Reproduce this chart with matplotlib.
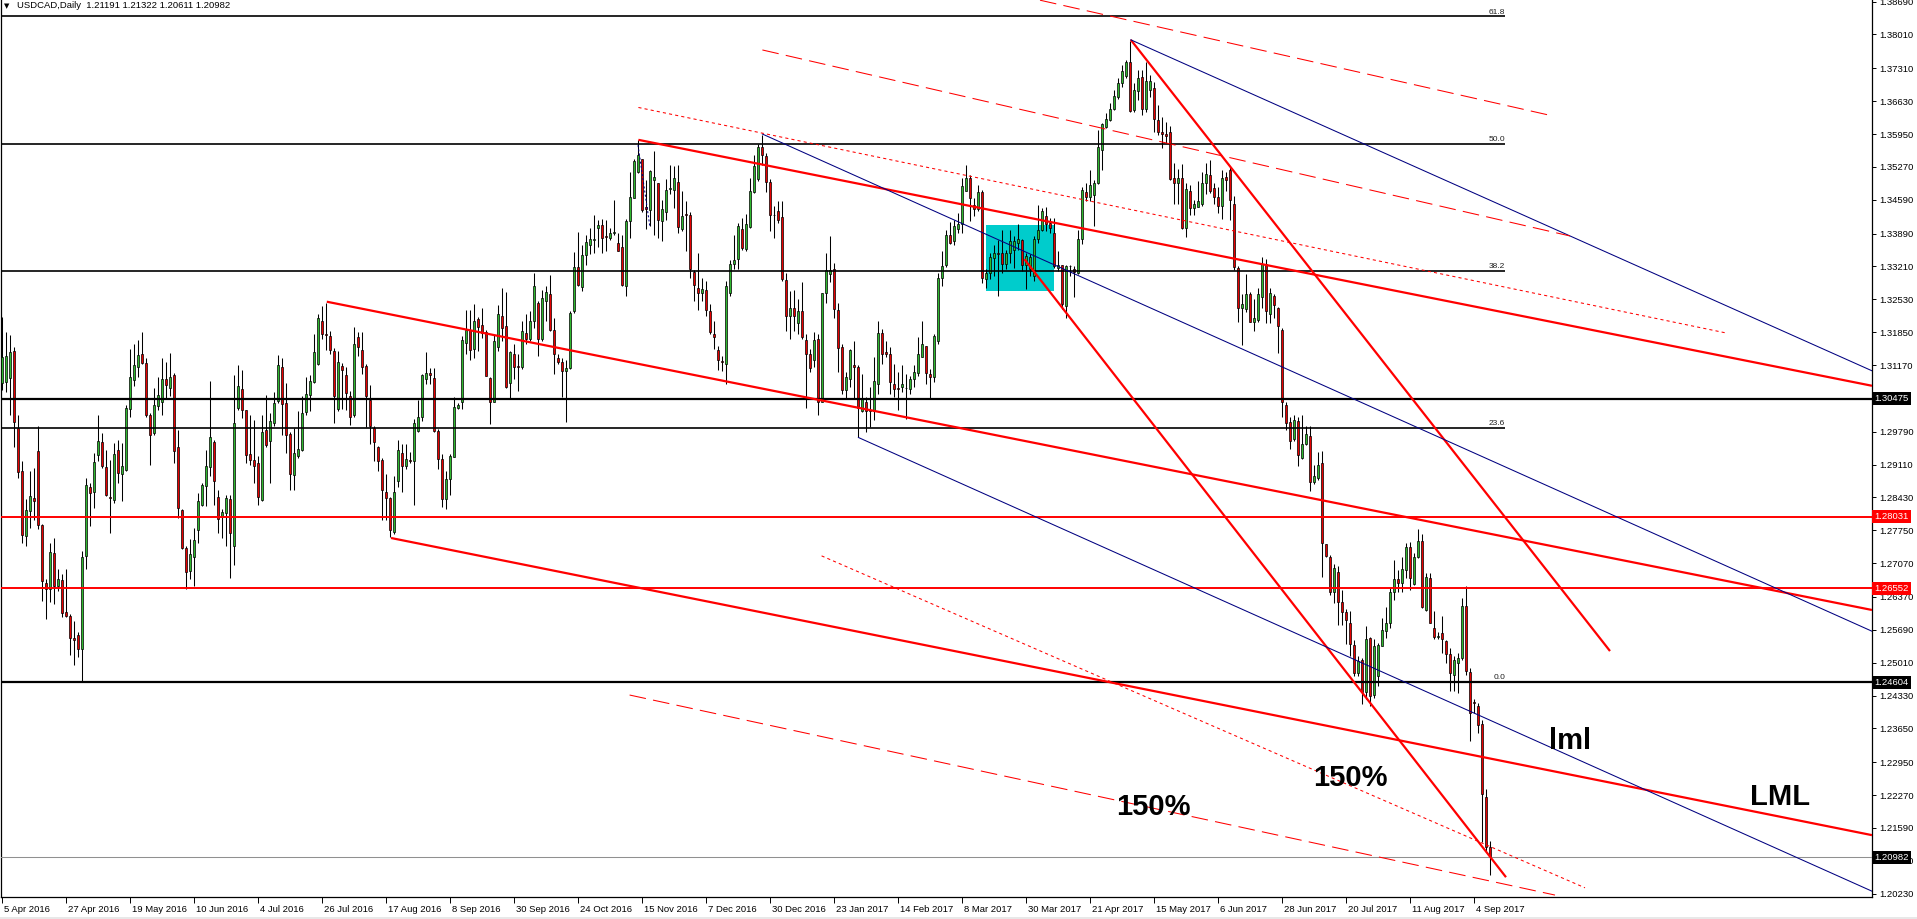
import matplotlib
matplotlib.use("Agg")
from matplotlib import pyplot as plt
from matplotlib.patches import Rectangle
import matplotlib.transforms as mtransforms
import numpy as np

plt.rcParams['font.family'] = ['Liberation Sans', 'DejaVu Sans']

# USDCAD daily, one entry per bar
opens = [
    1.3079, 1.3082, 1.3091, 1.3146, 1.2986, 1.2898, 1.2764, 1.2815, 1.2842, 1.2939,
    1.2786, 1.2665, 1.2654, 1.2727, 1.2659, 1.2673, 1.2606, 1.2597, 1.2552, 1.2558,
    1.2529, 1.2722, 1.2865, 1.2854, 1.2930, 1.2957, 1.2906, 1.2844, 1.2837, 1.2941,
    1.2891, 1.2899, 1.3025, 1.3087, 1.3113, 1.3139, 1.3122, 1.3014, 1.2976, 1.3032,
    1.3040, 1.3089, 1.3070, 1.3096, 1.2948, 1.2816, 1.2739, 1.2691, 1.2720, 1.2775,
    1.2827, 1.2866, 1.2906, 1.2957, 1.2844, 1.2804, 1.2811, 1.2839, 1.2742, 1.3029,
    1.3068, 1.3023, 1.2933, 1.2921, 1.2915, 1.2837, 1.2983, 1.2959, 1.2997, 1.3042,
    1.3112, 1.3038, 1.2975, 1.2890, 1.2928, 1.2942, 1.3019, 1.3054, 1.3081, 1.3120,
    1.3209, 1.3182, 1.3178, 1.3146, 1.3025, 1.3114, 1.3097, 1.3053, 1.3013, 1.3174,
    1.3149, 1.3115, 1.3044, 1.2987, 1.2948, 1.2921, 1.2855, 1.2842, 1.2771, 1.2877,
    1.2934, 1.2909, 1.2921, 1.2919, 1.2981, 1.3010, 1.3089, 1.3101, 1.3091, 1.2981,
    1.2923, 1.2840, 1.2881, 1.2926, 1.3027, 1.3041, 1.3163, 1.3190, 1.3151, 1.3213,
    1.3199, 1.3186, 1.3091, 1.3040, 1.3154, 1.3218, 1.3197, 1.3079, 1.3140, 1.3115,
    1.3112, 1.3183, 1.3170, 1.3208, 1.3245, 1.3170, 1.3249, 1.3263, 1.3189, 1.3131,
    1.3123, 1.3105, 1.3110, 1.3228, 1.3320, 1.3278, 1.3345, 1.3366, 1.3376, 1.3400,
    1.3407, 1.3383, 1.3379, 1.3390, 1.3369, 1.3362, 1.3280, 1.3414, 1.3463, 1.3516,
    1.3543, 1.3443, 1.3437, 1.3500, 1.3494, 1.3416, 1.3434, 1.3482, 1.3480, 1.3495,
    1.3399, 1.3430, 1.3428, 1.3310, 1.3277, 1.3265, 1.3272, 1.3228, 1.3181, 1.3148,
    1.3126, 1.3119, 1.3267, 1.3327, 1.3336, 1.3399, 1.3358, 1.3403, 1.3475, 1.3501,
    1.3569, 1.3549, 1.3496, 1.3428, 1.3435, 1.3423, 1.3292, 1.3219, 1.3236, 1.3203,
    1.3228, 1.3169, 1.3140, 1.3128, 1.3171, 1.3040, 1.3265, 1.3306, 1.3315, 1.3231,
    1.3154, 1.3066, 1.3088, 1.3117, 1.3112, 1.3021, 1.3040, 1.3021, 1.3022, 1.3078,
    1.3183, 1.3143, 1.3140, 1.3078, 1.3069, 1.3071, 1.3070, 1.3068, 1.3088, 1.3100,
    1.3134, 1.3157, 1.3099, 1.3093, 1.3167, 1.3298, 1.3324, 1.3386, 1.3373, 1.3399,
    1.3408, 1.3478, 1.3503, 1.3449, 1.3440, 1.3476, 1.3296, 1.3307, 1.3339, 1.3348,
    1.3348, 1.3327, 1.3348, 1.3356, 1.3370, 1.3375, 1.3323, 1.3315, 1.3301, 1.3377,
    1.3397, 1.3426, 1.3410, 1.3391, 1.3318, 1.3323, 1.3239, 1.3322, 1.3316, 1.3308,
    1.3377, 1.3476, 1.3465, 1.3469, 1.3494, 1.3562, 1.3610, 1.3624, 1.3646, 1.3672,
    1.3700, 1.3715, 1.3744, 1.3645, 1.3684, 1.3713, 1.3646, 1.3686, 1.3691, 1.3624,
    1.3600, 1.3596, 1.3600, 1.3504, 1.3493, 1.3504, 1.3401, 1.3477, 1.3441, 1.3445,
    1.3451, 1.3493, 1.3510, 1.3484, 1.3464, 1.3447, 1.3506, 1.3520, 1.3451, 1.3318,
    1.3235, 1.3233, 1.3264, 1.3207, 1.3211, 1.3257, 1.3327, 1.3222, 1.3259, 1.3234,
    1.3190, 1.3034, 1.3000, 1.2964, 1.3002, 1.2924, 1.2953, 1.2971, 1.2874, 1.2883,
    1.2914, 1.2746, 1.2719, 1.2647, 1.2689, 1.2626, 1.2605, 1.2583, 1.2538, 1.2480,
    1.2506, 1.2440, 1.2552, 1.2435, 1.2473, 1.2536, 1.2566, 1.2583, 1.2648, 1.2674,
    1.2665, 1.2693, 1.2741, 1.2664, 1.2719, 1.2753, 1.2610, 1.2676, 1.2573, 1.2555,
    1.2562, 1.2545, 1.2519, 1.2476, 1.2501, 1.2511, 1.2619, 1.2481, 1.2419, 1.2412,
    1.2375, 1.2222, 1.21191]

highs = [
    1.3216, 1.3186, 1.3179, 1.3155, 1.3014, 1.2919, 1.2839, 1.2897, 1.2904, 1.2990,
    1.2787, 1.2674, 1.2749, 1.2760, 1.2694, 1.2684, 1.2694, 1.2602, 1.2588, 1.2564,
    1.2732, 1.2883, 1.2873, 1.2935, 1.3014, 1.2976, 1.2942, 1.2921, 1.2955, 1.2962,
    1.2955, 1.3034, 1.3151, 1.3161, 1.3168, 1.3186, 1.3131, 1.3017, 1.3069, 1.3093,
    1.3131, 1.3124, 1.3141, 1.3100, 1.2983, 1.2818, 1.2742, 1.2756, 1.2780, 1.2852,
    1.2873, 1.2942, 1.3084, 1.2962, 1.2859, 1.2818, 1.2849, 1.2849, 1.3096, 1.3118,
    1.3107, 1.3024, 1.3014, 1.3003, 1.2928, 1.3014, 1.3055, 1.3017, 1.3062, 1.3137,
    1.3131, 1.3079, 1.2979, 1.2986, 1.3021, 1.3052, 1.3093, 1.3096, 1.3182, 1.3223,
    1.3239, 1.3246, 1.3187, 1.3153, 1.3146, 1.3122, 1.3112, 1.3064, 1.3195, 1.3185,
    1.3185, 1.3120, 1.3075, 1.2991, 1.2950, 1.2925, 1.2891, 1.2843, 1.2888, 1.2962,
    1.2953, 1.2953, 1.2936, 1.3005, 1.3044, 1.3098, 1.3143, 1.3111, 1.3110, 1.2984,
    1.2933, 1.2898, 1.2933, 1.3050, 1.3039, 1.3177, 1.3230, 1.3231, 1.3243, 1.3216,
    1.3235, 1.3190, 1.3092, 1.3180, 1.3242, 1.3276, 1.3269, 1.3146, 1.3161, 1.3140,
    1.3209, 1.3222, 1.3228, 1.3307, 1.3249, 1.3273, 1.3281, 1.3303, 1.3215, 1.3140,
    1.3132, 1.3127, 1.3228, 1.3351, 1.3393, 1.3366, 1.3386, 1.3400, 1.3428, 1.3418,
    1.3419, 1.3418, 1.3400, 1.3458, 1.3390, 1.3386, 1.3420, 1.3517, 1.3544, 1.3582,
    1.3544, 1.3500, 1.3521, 1.3559, 1.3494, 1.3459, 1.3501, 1.3530, 1.3528, 1.3531,
    1.3477, 1.3457, 1.3434, 1.3313, 1.3349, 1.3298, 1.3291, 1.3244, 1.3209, 1.3157,
    1.3136, 1.3291, 1.3334, 1.3387, 1.3411, 1.3422, 1.3429, 1.3504, 1.3552, 1.3575,
    1.3593, 1.3555, 1.3501, 1.3446, 1.3456, 1.3457, 1.3308, 1.3270, 1.3272, 1.3253,
    1.3288, 1.3181, 1.3150, 1.3185, 1.3181, 1.3267, 1.3349, 1.3384, 1.3329, 1.3246,
    1.3161, 1.3102, 1.3150, 1.3167, 1.3116, 1.3099, 1.3051, 1.3071, 1.3133, 1.3209,
    1.3191, 1.3167, 1.3155, 1.3119, 1.3102, 1.3117, 1.3099, 1.3095, 1.3116, 1.3174,
    1.3209, 1.3157, 1.3109, 1.3181, 1.3308, 1.3353, 1.3397, 1.3413, 1.3418, 1.3432,
    1.3504, 1.3531, 1.3511, 1.3463, 1.3490, 1.3480, 1.3315, 1.3349, 1.3366, 1.3376,
    1.3397, 1.3356, 1.3397, 1.3384, 1.3408, 1.3378, 1.3349, 1.3346, 1.3384, 1.3449,
    1.3442, 1.3445, 1.3421, 1.3421, 1.3353, 1.3325, 1.3325, 1.3325, 1.3322, 1.3397,
    1.3485, 1.3494, 1.3520, 1.3499, 1.3604, 1.3617, 1.3638, 1.3660, 1.3687, 1.3710,
    1.3737, 1.3749, 1.3788, 1.3700, 1.3727, 1.3727, 1.3744, 1.3717, 1.3703, 1.3655,
    1.3631, 1.3620, 1.3612, 1.3535, 1.3523, 1.3532, 1.3493, 1.3489, 1.3458, 1.3497,
    1.3516, 1.3535, 1.3542, 1.3493, 1.3485, 1.3520, 1.3516, 1.3527, 1.3466, 1.3322,
    1.3264, 1.3306, 1.3268, 1.3253, 1.3276, 1.3340, 1.3337, 1.3276, 1.3264, 1.3238,
    1.3194, 1.3040, 1.3009, 1.3013, 1.3009, 1.3013, 1.2990, 1.2991, 1.2910, 1.2937,
    1.2938, 1.2746, 1.2723, 1.2705, 1.2701, 1.2651, 1.2613, 1.2607, 1.2548, 1.2514,
    1.2511, 1.2576, 1.2555, 1.2549, 1.2542, 1.2593, 1.2617, 1.2655, 1.2714, 1.2693,
    1.2720, 1.2748, 1.2751, 1.2727, 1.2777, 1.2768, 1.2686, 1.2687, 1.2607, 1.2565,
    1.2597, 1.2548, 1.2531, 1.2514, 1.2521, 1.2634, 1.2660, 1.2490, 1.2426, 1.2418,
    1.2383, 1.2239, 1.21322]

lows = [
    1.3065, 1.3062, 1.3014, 1.2948, 1.2883, 1.2749, 1.2742, 1.2780, 1.2797, 1.2777,
    1.2629, 1.2591, 1.2626, 1.2622, 1.2650, 1.2595, 1.2595, 1.2516, 1.2496, 1.2512,
    1.2463, 1.2694, 1.2784, 1.2821, 1.2918, 1.2904, 1.2845, 1.2770, 1.2832, 1.2873,
    1.2835, 1.2897, 1.3010, 1.3074, 1.3093, 1.3120, 1.3010, 1.2911, 1.2973, 1.3024,
    1.3014, 1.3048, 1.3052, 1.2914, 1.2801, 1.2736, 1.2654, 1.2674, 1.2660, 1.2749,
    1.2825, 1.2825, 1.2887, 1.2828, 1.2770, 1.2760, 1.2742, 1.2677, 1.2703, 1.3024,
    1.3007, 1.2914, 1.2911, 1.2873, 1.2828, 1.2835, 1.2948, 1.2873, 1.2990, 1.3038,
    1.2973, 1.2935, 1.2859, 1.2859, 1.2924, 1.2938, 1.3014, 1.3021, 1.3079, 1.3117,
    1.3170, 1.3149, 1.3139, 1.2996, 1.3022, 1.3026, 1.3024, 1.2993, 1.3009, 1.3136,
    1.3098, 1.2988, 1.2954, 1.2919, 1.2897, 1.2796, 1.2796, 1.2761, 1.2768, 1.2864,
    1.2854, 1.2902, 1.2915, 1.2827, 1.2978, 1.3001, 1.3077, 1.3077, 1.2978, 1.2902,
    1.2823, 1.2820, 1.2847, 1.2926, 1.3025, 1.3025, 1.3140, 1.3127, 1.3132, 1.3146,
    1.3172, 1.3094, 1.2995, 1.3040, 1.3146, 1.3167, 1.3070, 1.3046, 1.3088, 1.3064,
    1.3108, 1.3160, 1.3166, 1.3194, 1.3136, 1.3166, 1.3208, 1.3188, 1.3098, 1.3119,
    1.3050, 1.2999, 1.3108, 1.3224, 1.3280, 1.3270, 1.3325, 1.3347, 1.3349, 1.3362,
    1.3349, 1.3353, 1.3376, 1.3386, 1.3352, 1.3280, 1.3259, 1.3380, 1.3462, 1.3514,
    1.3434, 1.3399, 1.3404, 1.3387, 1.3380, 1.3373, 1.3418, 1.3470, 1.3442, 1.3391,
    1.3394, 1.3353, 1.3298, 1.3250, 1.3231, 1.3250, 1.3219, 1.3181, 1.3150, 1.3106,
    1.3104, 1.3078, 1.3260, 1.3315, 1.3315, 1.3356, 1.3353, 1.3401, 1.3473, 1.3497,
    1.3531, 1.3475, 1.3394, 1.3379, 1.3411, 1.3291, 1.3188, 1.3171, 1.3188, 1.3181,
    1.3171, 1.3027, 1.3102, 1.3112, 1.3013, 1.3040, 1.3246, 1.3288, 1.3215, 1.3102,
    1.3057, 1.3049, 1.3071, 1.3047, 1.2967, 1.3020, 1.2978, 1.2989, 1.3003, 1.3057,
    1.3119, 1.3133, 1.3057, 1.3051, 1.3023, 1.3061, 1.3006, 1.3057, 1.3071, 1.3095,
    1.3133, 1.3078, 1.3047, 1.3081, 1.3160, 1.3281, 1.3319, 1.3367, 1.3365, 1.3391,
    1.3391, 1.3478, 1.3415, 1.3425, 1.3435, 1.3287, 1.3277, 1.3296, 1.3301, 1.3260,
    1.3308, 1.3315, 1.3329, 1.3318, 1.3356, 1.3311, 1.3274, 1.3301, 1.3291, 1.3370,
    1.3394, 1.3394, 1.3390, 1.3318, 1.3311, 1.3233, 1.3215, 1.3301, 1.3257, 1.3305,
    1.3367, 1.3456, 1.3456, 1.3404, 1.3492, 1.3521, 1.3607, 1.3621, 1.3644, 1.3668,
    1.3693, 1.3710, 1.3641, 1.3641, 1.3665, 1.3634, 1.3641, 1.3672, 1.3600, 1.3593,
    1.3566, 1.3577, 1.3500, 1.3451, 1.3451, 1.3398, 1.3382, 1.3428, 1.3428, 1.3443,
    1.3447, 1.3470, 1.3474, 1.3451, 1.3432, 1.3420, 1.3478, 1.3417, 1.3314, 1.3207,
    1.3159, 1.3226, 1.3205, 1.3188, 1.3207, 1.3234, 1.3203, 1.3203, 1.3215, 1.3142,
    1.3009, 1.2982, 1.2944, 1.2960, 1.2908, 1.2923, 1.2952, 1.2857, 1.2870, 1.2880,
    1.2678, 1.2720, 1.2640, 1.2624, 1.2578, 1.2578, 1.2540, 1.2514, 1.2473, 1.2473,
    1.2415, 1.2425, 1.2411, 1.2428, 1.2452, 1.2535, 1.2552, 1.2573, 1.2631, 1.2648,
    1.2648, 1.2676, 1.2652, 1.2662, 1.2717, 1.2614, 1.2607, 1.2583, 1.2549, 1.2550,
    1.2521, 1.2501, 1.2442, 1.2442, 1.2439, 1.2507, 1.2476, 1.2339, 1.2397, 1.2356,
    1.2129, 1.2110, 1.20611]

closes = [
    1.3133, 1.3135, 1.3144, 1.3000, 1.2895, 1.2765, 1.2816, 1.2846, 1.2835, 1.2786,
    1.2670, 1.2653, 1.2731, 1.2660, 1.2675, 1.2603, 1.2598, 1.2551, 1.2547, 1.2529,
    1.2720, 1.2868, 1.2852, 1.2916, 1.2960, 1.2907, 1.2849, 1.2841, 1.2933, 1.2894,
    1.2907, 1.3028, 1.3093, 1.3118, 1.3137, 1.3122, 1.3014, 1.2973, 1.3034, 1.3054,
    1.3089, 1.3075, 1.3093, 1.2940, 1.2821, 1.2739, 1.2689, 1.2725, 1.2755, 1.2836,
    1.2869, 1.2909, 1.2968, 1.2876, 1.2799, 1.2813, 1.2841, 1.2770, 1.2997, 1.3074,
    1.3024, 1.2931, 1.2921, 1.2907, 1.2844, 1.2979, 1.2952, 1.3001, 1.3038, 1.3116,
    1.3037, 1.2973, 1.2891, 1.2935, 1.2943, 1.3017, 1.3057, 1.3083, 1.3144, 1.3215,
    1.3182, 1.3180, 1.3149, 1.3052, 1.3123, 1.3106, 1.3059, 1.3010, 1.3160, 1.3155,
    1.3112, 1.3053, 1.2990, 1.2957, 1.2919, 1.2859, 1.2842, 1.2776, 1.2855, 1.2941,
    1.2908, 1.2922, 1.2918, 1.2997, 1.3010, 1.3096, 1.3100, 1.3097, 1.2980, 1.2923,
    1.2840, 1.2881, 1.2929, 1.3030, 1.3034, 1.3168, 1.3190, 1.3149, 1.3209, 1.3196,
    1.3183, 1.3094, 1.3040, 1.3167, 1.3222, 1.3194, 1.3072, 1.3144, 1.3112, 1.3113,
    1.3187, 1.3170, 1.3209, 1.3280, 1.3170, 1.3256, 1.3268, 1.3189, 1.3139, 1.3123,
    1.3105, 1.3110, 1.3224, 1.3320, 1.3283, 1.3345, 1.3371, 1.3378, 1.3378, 1.3406,
    1.3380, 1.3381, 1.3391, 1.3393, 1.3352, 1.3283, 1.3414, 1.3465, 1.3540, 1.3551,
    1.3438, 1.3440, 1.3519, 1.3507, 1.3418, 1.3439, 1.3480, 1.3482, 1.3504, 1.3403,
    1.3425, 1.3428, 1.3315, 1.3282, 1.3265, 1.3274, 1.3231, 1.3185, 1.3174, 1.3128,
    1.3123, 1.3281, 1.3327, 1.3334, 1.3404, 1.3360, 1.3408, 1.3477, 1.3528, 1.3569,
    1.3552, 1.3496, 1.3428, 1.3427, 1.3418, 1.3294, 1.3219, 1.3236, 1.3219, 1.3228,
    1.3174, 1.3139, 1.3110, 1.3169, 1.3040, 1.3266, 1.3313, 1.3313, 1.3233, 1.3152,
    1.3066, 1.3093, 1.3148, 1.3112, 1.3027, 1.3049, 1.3021, 1.3024, 1.3083, 1.3183,
    1.3140, 1.3140, 1.3081, 1.3068, 1.3068, 1.3078, 1.3069, 1.3088, 1.3102, 1.3140,
    1.3160, 1.3100, 1.3093, 1.3176, 1.3297, 1.3322, 1.3386, 1.3370, 1.3404, 1.3409,
    1.3487, 1.3504, 1.3463, 1.3440, 1.3476, 1.3298, 1.3308, 1.3340, 1.3349, 1.3346,
    1.3327, 1.3348, 1.3373, 1.3373, 1.3378, 1.3323, 1.3342, 1.3341, 1.3378, 1.3397,
    1.3435, 1.3408, 1.3401, 1.3322, 1.3323, 1.3243, 1.3322, 1.3321, 1.3309, 1.3377,
    1.3480, 1.3465, 1.3490, 1.3494, 1.3568, 1.3616, 1.3627, 1.3646, 1.3673, 1.3701,
    1.3725, 1.3744, 1.3643, 1.3686, 1.3711, 1.3646, 1.3704, 1.3704, 1.3627, 1.3599,
    1.3595, 1.3590, 1.3502, 1.3493, 1.3504, 1.3401, 1.3481, 1.3442, 1.3451, 1.3456,
    1.3493, 1.3512, 1.3478, 1.3465, 1.3447, 1.3504, 1.3500, 1.3459, 1.3319, 1.3235,
    1.3243, 1.3264, 1.3207, 1.3215, 1.3264, 1.3325, 1.3228, 1.3267, 1.3241, 1.3197,
    1.3041, 1.2998, 1.2960, 1.3004, 1.2930, 1.2953, 1.2975, 1.2874, 1.2887, 1.2911,
    1.2748, 1.2721, 1.2647, 1.2697, 1.2626, 1.2605, 1.2590, 1.2540, 1.2480, 1.2504,
    1.2440, 1.2550, 1.2433, 1.2535, 1.2538, 1.2568, 1.2584, 1.2648, 1.2675, 1.2665,
    1.2694, 1.2741, 1.2676, 1.2720, 1.2753, 1.2617, 1.2679, 1.2583, 1.2555, 1.2557,
    1.2549, 1.2518, 1.2480, 1.2507, 1.2511, 1.2619, 1.2483, 1.2396, 1.2417, 1.2373,
    1.2229, 1.2119, 1.20982]

# date labels, one every 16 bars
date_labels = ['5 Apr 2016', '27 Apr 2016', '19 May 2016', '10 Jun 2016', '4 Jul 2016',
               '26 Jul 2016', '17 Aug 2016', '8 Sep 2016', '30 Sep 2016', '24 Oct 2016',
               '15 Nov 2016', '7 Dec 2016', '30 Dec 2016', '23 Jan 2017', '14 Feb 2017',
               '8 Mar 2017', '30 Mar 2017', '21 Apr 2017', '15 May 2017', '6 Jun 2017',
               '28 Jun 2017', '20 Jul 2017', '11 Aug 2017', '4 Sep 2017']
label_step = 16

price_ticks = [1.38690, 1.38010, 1.37310, 1.36630, 1.35950, 1.35270, 1.34590, 1.33890,
               1.33210, 1.32530, 1.31850, 1.31170, 1.29790, 1.29110, 1.28430, 1.27750,
               1.27070, 1.26370, 1.25690, 1.25010, 1.24330, 1.23650, 1.22950, 1.22270,
               1.21590, 1.20910, 1.20230]

# fibonacci retracement of the 2016 high -> low
fib_low = 1.24604
fib_high = 1.46900
fib_levels = [0.0, 23.6, 38.2, 50.0, 61.8]
fib_end_bar = 375.75

# horizontal support / resistance lines (price, colour)
hlines_black = [1.30475, 1.24604]
hlines_red = [1.28031, 1.26552]
bid_price = 1.20982

# trend lines as (bar0, price0, bar1, price1)
red_thick = [(159.1, 1.3583, 467.5, 1.3074),
             (81.2, 1.3248, 467.5, 1.2610),
             (97.25, 1.2759, 467.5, 1.2144),
             (282.2, 1.3790, 402.0, 1.2525),
             (255.6, 1.3336, 376.0, 1.2057)]
navy_lines = [(282.2, 1.3790, 467.5, 1.3105),
              (190.1, 1.3595, 467.5, 1.2566),
              (214.1, 1.2967, 467.5, 1.2028)]
navy_dotted = [(159.0, 1.3572, 162.0, 1.3402)]
red_dashed = [(259.5, 1.3872, 387.4, 1.3633),
              (190.1, 1.3769, 392.0, 1.3384),
              (156.9, 1.2434, 388.25, 1.2020)]
red_dotted = [(159.1, 1.3650, 431.2, 1.3183),
              (204.9, 1.2722, 395.75, 1.2035)]

# highlighted consolidation box (bar0, bar1, price_low, price_high)
box = (246, 263, 1.3271, 1.3407)

# chart notes (bar, price, text)
notes = [(337.0, 1.2262, '150%'), (287.75, 1.2202, '150%'),
         (392.0, 1.2339, 'lml'), (444.5, 1.2222, 'LML')]

header = 'USDCAD,Daily  1.21191 1.21322 1.20611 1.20982'

W, H = 1917, 919
fig = plt.figure(figsize=(W / 100, H / 100), dpi=100)
fig.patch.set_facecolor('white')
ax = fig.add_axes([1 / W, 22 / H, 1871 / W, 897 / H])
ax.set_xlim(-0.25, 467.5)
ax.set_ylim(1.20160, 1.38724)

o = np.array(opens)
h = np.array(highs)
l = np.array(lows)
c = np.array(closes)
x = np.arange(len(c))

# consolidation box behind candles
ax.add_patch(Rectangle((box[0], box[2]), box[1] - box[0], box[3] - box[2],
                       facecolor='#00cccc', edgecolor='none', zorder=1))

# candles
ax.vlines(x, np.minimum(l, np.minimum(o, c)), np.maximum(h, np.maximum(o, c)),
          color='black', linewidth=0.75, zorder=3)
up = c >= o
body_lo = np.minimum(o, c)
body_h = np.maximum(np.abs(c - o), 0.00004)
ax.bar(x[up], body_h[up], bottom=body_lo[up], width=0.72, color='#2fb82f',
       edgecolor='black', linewidth=0.5, zorder=4)
ax.bar(x[~up], body_h[~up], bottom=body_lo[~up], width=0.72, color='#e60000',
       edgecolor='black', linewidth=0.5, zorder=4)

# fibo levels
for lev in fib_levels:
    p = fib_low + (fib_high - fib_low) * lev / 100.0
    ax.hlines(p, -0.25, fib_end_bar, colors='black', linewidth=1.2, zorder=5)
    ax.text(fib_end_bar, p + 0.0002, '%.1f' % lev, ha='right', va='bottom',
            fontsize=6, color='#202020', zorder=6)

for p in hlines_black:
    ax.axhline(p, color='black', linewidth=1.6, zorder=5)
for p in hlines_red:
    ax.axhline(p, color='#ff0000', linewidth=1.4, zorder=5)
ax.axhline(bid_price, color='#909090', linewidth=0.75, zorder=5)

for x0, p0, x1, p1 in red_thick:
    ax.plot([x0, x1], [p0, p1], color='#ff0000', linewidth=1.6, zorder=6,
            solid_capstyle='butt')
for x0, p0, x1, p1 in navy_lines:
    ax.plot([x0, x1], [p0, p1], color='#000080', linewidth=0.75, zorder=6)
for x0, p0, x1, p1 in navy_dotted:
    ax.plot([x0, x1], [p0, p1], color='#000080', linewidth=0.75, zorder=6,
            dashes=(2, 2))
for x0, p0, x1, p1 in red_dashed:
    ax.plot([x0, x1], [p0, p1], color='#ff0000', linewidth=0.75, zorder=6,
            dashes=(16, 7))
for x0, p0, x1, p1 in red_dotted:
    ax.plot([x0, x1], [p0, p1], color='#ff0000', linewidth=0.75, zorder=6,
            dashes=(3, 3))

for bx, by, txt in notes:
    ax.text(bx, by, txt, ha='center', va='center', fontsize=21,
            fontweight='bold', color='black', zorder=8)

# axes look (MT4 style)
for side in ['left', 'bottom', 'right']:
    ax.spines[side].set_color('black')
    ax.spines[side].set_linewidth(0.9)
ax.spines['top'].set_visible(False)

ax.yaxis.tick_right()
ax.set_yticks(price_ticks)
ax.set_yticklabels(['%.5f' % v for v in price_ticks])
ax.tick_params(axis='y', direction='out', length=3, width=0.7, pad=2,
               labelsize=6.8, colors='black')

ax.set_xticks([i * label_step for i in range(len(date_labels))])
ax.set_xticklabels(date_labels)
ax.tick_params(axis='x', direction='out', length=4, width=0.7, pad=1.5,
               labelsize=6.8, colors='black')
shift = mtransforms.ScaledTranslation(2 / 100, 0, fig.dpi_scale_trans)
for lab in ax.get_xticklabels():
    lab.set_horizontalalignment('left')
    lab.set_transform(lab.get_transform() + shift)

# price tags on the scale
tags = [(1.30475, 'black'), (1.28031, '#ff0000'), (1.26552, '#ff0000'),
        (1.24604, 'black'), (bid_price, 'black')]
for p, bg in tags:
    ax.text(1.0012, p, '%.5f' % p, transform=ax.get_yaxis_transform(),
            ha='left', va='center', fontsize=6.8, color='white',
            bbox=dict(boxstyle='square,pad=0.22', fc=bg, ec='none'),
            clip_on=False, zorder=10)

fig.text(4 / W, 1 - 6 / H, '\u25bc', fontsize=5, family='DejaVu Sans',
         va='center', ha='left')
fig.text(17 / W, 1 - 6 / H, header, fontsize=6.8, va='center', ha='left')
fig.patches.append(Rectangle((0, 0), 1, 2 / H, transform=fig.transFigure,
                             facecolor='#e8e8e8', edgecolor='none'))

fig.savefig('out.png', dpi=100)
